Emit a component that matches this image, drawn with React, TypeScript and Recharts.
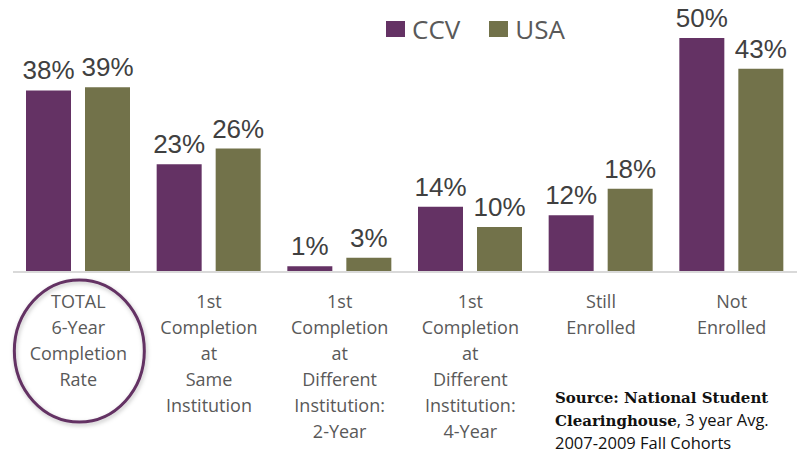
import React from "react";
import { BarChart, Bar, XAxis, YAxis, LabelList } from "recharts";

const categories = [
  "TOTAL\n6-Year\nCompletion\nRate",
  "1st\nCompletion\nat\nSame\nInstitution",
  "1st\nCompletion\nat\nDifferent\nInstitution:\n2-Year",
  "1st\nCompletion\nat\nDifferent\nInstitution:\n4-Year",
  "Still\nEnrolled",
  "Not\nEnrolled",
];
// shares, labels are rounded to whole percent
const ccvValues = [38.4, 22.8, 1.2, 13.8, 12, 49.5];
const usaValues = [39.1, 26.1, 3, 9.5, 17.6, 43];
const seriesNames = ["CCV", "USA"];

const PURPLE = "#643264";
const OLIVE = "#72724a";
const TEXT_GRAY = "#595959";
const colors = [PURPLE, OLIVE];

const data = categories.map((c, i) => ({
  name: c,
  ccv: ccvValues[i],
  usa: usaValues[i],
}));

const fmt = (v: any) => `${Math.round(Number(v))}%`;

function CategoryTick(props: any) {
  const { x, y, payload, index } = props;
  const lines = String(payload.value).split("\n");
  return (
    <g>
      {index === 0 && (
        <ellipse
          cx={x + 1}
          cy={y + 71}
          rx={65}
          ry={71}
          fill="none"
          stroke={PURPLE}
          strokeWidth={3}
          filter="url(#soft-shadow)"
        />
      )}
      <text
        x={x}
        y={y}
        textAnchor="middle"
        fill={TEXT_GRAY}
        fontSize={18}
        fontFamily="'Open Sans', sans-serif"
      >
        {lines.map((l, i) => (
          <tspan key={i} x={x} dy={i === 0 ? 28 : 26}>
            {l}
          </tspan>
        ))}
      </text>
    </g>
  );
}

export default function App() {
  return (
    <div style={{ position: "absolute", left: 0, top: 0, width: 801, height: 456, background: "#fff" }}>
      <BarChart
        width={801}
        height={456}
        data={data}
        margin={{ top: 12, right: 4, bottom: 0, left: 13 }}
        barGap={14}
        barSize={45}
      >
        <defs>
          <filter id="soft-shadow" x="-20%" y="-20%" width="140%" height="140%">
            <feDropShadow dx="1" dy="2" stdDeviation="2" floodColor="#000" floodOpacity="0.25" />
          </filter>
        </defs>
        <XAxis
          dataKey="name"
          height={184}
          interval={0}
          tickLine={false}
          axisLine={{ stroke: "#d9d9d9", strokeWidth: 2 }}
          tick={<CategoryTick />}
        />
        <YAxis hide domain={[0, 55]} allowDataOverflow />
        <Bar dataKey="ccv" name="CCV" fill={PURPLE} isAnimationActive={false}>
          <LabelList
            dataKey="ccv"
            position="top"
            offset={11}
            formatter={fmt}
            fill="#404040"
            fontSize={26}
            fontFamily="'Liberation Sans', Arial, sans-serif"
          />
        </Bar>
        <Bar dataKey="usa" name="USA" fill={OLIVE} isAnimationActive={false}>
          <LabelList
            dataKey="usa"
            position="top"
            offset={11}
            formatter={fmt}
            fill="#404040"
            fontSize={26}
            fontFamily="'Liberation Sans', Arial, sans-serif"
          />
        </Bar>
      </BarChart>

      {/* Legend */}
      <div
        style={{
          position: "absolute",
          left: 386,
          top: 11,
          display: "flex",
          alignItems: "center",
          fontFamily: "'Open Sans', sans-serif",
        }}
      >
        {seriesNames.map((s, i) => (
          <span
            key={s}
            style={{ display: "flex", alignItems: "center", marginRight: 29, color: TEXT_GRAY, fontSize: 26 }}
          >
            <span style={{ width: 19, height: 16, background: colors[i], marginRight: 7, display: "inline-block" }} />
            {s}
          </span>
        ))}
      </div>

      <div
        style={{
          position: "absolute",
          left: 555,
          top: 388,
          color: "#111",
          lineHeight: "21px",
          fontSize: 16.5,
          fontFamily: "'Open Sans', sans-serif",
          whiteSpace: "nowrap",
        }}
      >
        <div style={{ fontFamily: "'DejaVu Serif', serif", fontWeight: 700, fontSize: 15 }}>
          Source: National Student
        </div>
        <div>
          <span style={{ fontFamily: "'DejaVu Serif', serif", fontWeight: 700, fontSize: 15 }}>Clearinghouse</span>
          , 3 year Avg.
        </div>
        <div>2007-2009 Fall Cohorts</div>
      </div>
    </div>
  );
}
